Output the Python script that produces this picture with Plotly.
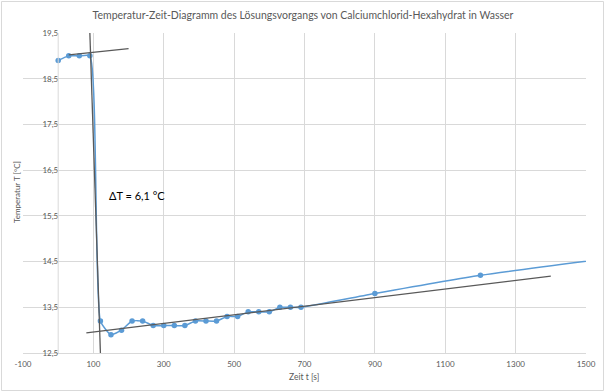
import plotly.graph_objects as go

# Measured data (time in s, temperature in °C)
zeit = [0, 30, 60, 90, 120, 150, 180, 210, 240, 270, 300, 330, 360, 390, 420, 450,
        480, 510, 540, 570, 600, 630, 660, 690, 900, 1200, 1800]
temp = [18.9, 19.0, 19.0, 19.0, 13.2, 12.9, 13.0, 13.2, 13.2, 13.1, 13.1, 13.1, 13.1,
        13.2, 13.2, 13.2, 13.3, 13.3, 13.4, 13.4, 13.4, 13.5, 13.5, 13.5, 13.8, 14.2, 14.8]

# Tangent / extrapolation lines
oben_x = [30, 200]
oben_y = [19.02, 19.16]
steil_x = [90, 120]
steil_y = [19.5, 12.5]
unten_x = [80, 1400]
unten_y = [12.94, 14.18]

# Tick labels
x_ticks = [-100, 100, 300, 500, 700, 900, 1100, 1300, 1500]
x_ticktext = ["-100", "100", "300", "500", "700", "900", "1100", "1300", "1500"]

titel = "Temperatur-Zeit-Diagramm des Lösungsvorgangs von Calciumchlorid-Hexahydrat in Wasser"
x_titel = "Zeit t [s]"
y_titel = "Temperatur T [°C]"
delta_text = "ΔT = 6,1 °C"

FONT = "Lato"
GRAU = "#595959"
GRID = "#D9D9D9"
BLAU = "#5B9BD5"
LINIE = "#595959"

L, R, T, B = 23, 20, 33, 39
PW, PH = 606 - L - R, 392 - T - B


def px_x(px):
    return (px - L) / PW


def px_y(py):
    return (392 - B - py) / PH


fig = go.Figure()
fig.add_trace(go.Scatter(x=zeit, y=temp, mode="lines+markers",
                         line=dict(color=BLAU, width=1.5, shape="spline", smoothing=0.5),
                         marker=dict(color=BLAU, size=5.5), cliponaxis=True, showlegend=False))
for lx, ly in [(oben_x, oben_y), (steil_x, steil_y), (unten_x, unten_y)]:
    fig.add_trace(go.Scatter(x=lx, y=ly, mode="lines",
                             line=dict(color=LINIE, width=1.3), showlegend=False))

fig.add_annotation(x=140, y=15.95, text=delta_text, showarrow=False, xanchor="left",
                   yanchor="middle", font=dict(family=FONT, size=11, color="#000000"))

# y axis line at x = 0
fig.add_shape(type="line", x0=0, x1=0, y0=12.5, y1=19.5, xref="x", yref="y",
              line=dict(color=GRID, width=1))
# chart border
fig.add_shape(type="rect", xref="paper", yref="paper", x0=px_x(1.5), x1=px_x(603.5),
              y0=px_y(390.5), y1=px_y(1.5), line=dict(color=GRID, width=1), layer="below")

fig.update_layout(
    width=606, height=392,
    margin=dict(l=L, r=R, t=T, b=B, autoexpand=False),
    paper_bgcolor="white", plot_bgcolor="white",
    separators=",.",
    title=dict(text=titel, x=px_x(303), xref="paper", xanchor="center", y=1 - 15 / 392,
               yanchor="middle", font=dict(family=FONT, size=10.5, color=GRAU),
               automargin=False),
    font=dict(family=FONT, color=GRAU, size=8),
    xaxis=dict(range=[-100, 1500], tickmode="array", tickvals=x_ticks, ticktext=x_ticktext,
               showgrid=True, gridcolor=GRID,
               gridwidth=1, zeroline=False, showline=True, linecolor=GRID, ticks="",
               automargin=False, ticklabelstandoff=3,
               tickfont=dict(family=FONT, size=8, color=GRAU)),
    yaxis=dict(range=[12.5, 19.5], tick0=12.5, dtick=1, showgrid=True, gridcolor=GRID,
               gridwidth=1, zeroline=False, showline=False, ticks="",
               anchor="free", position=0.0625, tickformat=".1f", automargin=False,
               tickfont=dict(family=FONT, size=8, color=GRAU)),
    showlegend=False,
)
fig.add_annotation(x=px_x(17), y=px_y(192), xref="paper", yref="paper", text=y_titel,
                   showarrow=False, textangle=-90, xanchor="center", yanchor="middle",
                   font=dict(family=FONT, size=8, color=GRAU))
fig.add_annotation(x=px_x(304), y=px_y(377), xref="paper", yref="paper", text=x_titel,
                   showarrow=False, xanchor="center", yanchor="middle",
                   font=dict(family=FONT, size=8.5, color=GRAU))

fig.write_html("out.html", config={"displayModeBar": False},
               post_script="document.body.style.margin='0';document.body.style.overflow='hidden';")
